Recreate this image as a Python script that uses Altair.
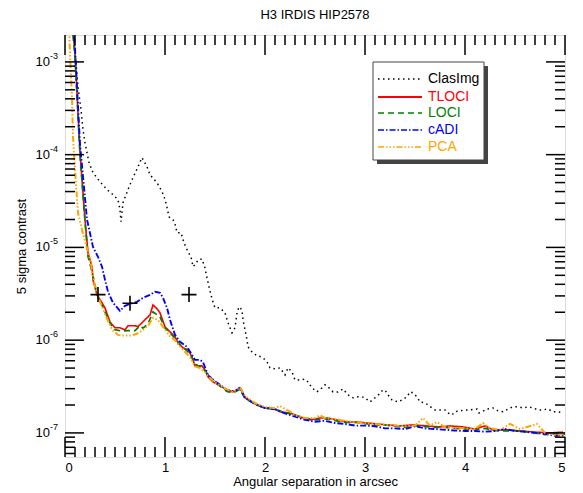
import altair as alt
import pandas as pd

# ---------------- data ----------------
series_names = ["ClasImg", "TLOCI", "LOCI", "cADI", "PCA"]
series_colors = ["#000000", "#ff0000", "#008000", "#0000ff", "#ffa500"]

sep_clas = [0.07, 0.11, 0.13, 0.16, 0.18, 0.20, 0.22, 0.24, 0.28, 0.35, 0.42, 0.48, 0.53, 0.55, 0.56,
            0.58, 0.63, 0.67, 0.73, 0.77, 0.82, 0.85, 0.92, 0.97, 1.00, 1.02, 1.04, 1.08, 1.10, 1.12,
            1.16, 1.19, 1.23, 1.26, 1.28, 1.31, 1.33, 1.37, 1.40, 1.42, 1.44, 1.47, 1.50, 1.55, 1.60,
            1.63, 1.65, 1.67, 1.70, 1.72, 1.74, 1.77, 1.78, 1.80, 1.82, 1.83, 1.87, 1.92, 1.97, 2.02,
            2.05, 2.10, 2.15, 2.20, 2.23, 2.27, 2.30, 2.35, 2.40, 2.43, 2.47, 2.52, 2.57, 2.60, 2.63,
            2.68, 2.73, 2.78, 2.83, 2.88, 2.93, 2.97, 3.00, 3.05, 3.10, 3.14, 3.17, 3.20, 3.23, 3.27,
            3.33, 3.37, 3.42, 3.45, 3.48, 3.52, 3.55, 3.60, 3.63, 3.67, 3.70, 3.75, 3.80, 3.83, 3.87,
            3.90, 3.95, 4.00, 4.05, 4.12, 4.14, 4.17, 4.22, 4.28, 4.33, 4.38, 4.43, 4.48, 4.53, 4.58,
            4.63, 4.68, 4.73, 4.78, 4.83, 4.88, 4.93, 4.98]
con_clas = [3.0e-3, 9.8e-4, 5.4e-4, 3.05e-4, 1.86e-4, 1.34e-4, 1.05e-4, 8.2e-5, 6.4e-5, 5.1e-5, 4.2e-5,
            3.7e-5, 3.26e-5, 2.55e-5, 1.89e-5, 3.03e-5, 4.2e-5, 5.36e-5, 7.4e-5, 9.3e-5, 7.4e-5, 6.07e-5,
            4.98e-5, 4.0e-5, 3.3e-5, 2.7e-5, 2.14e-5, 1.99e-5, 1.80e-5, 1.44e-5, 1.44e-5, 1.12e-5, 8.97e-6,
            7.9e-6, 6.2e-6, 6.65e-6, 7.35e-6, 7.5e-6, 6.0e-6, 4.7e-6, 3.76e-6, 2.79e-6, 2.23e-6, 2.23e-6,
            1.97e-6, 1.54e-6, 1.36e-6, 1.2e-6, 1.36e-6, 1.97e-6, 2.29e-6, 2.12e-6, 1.66e-6, 1.29e-6,
            1.01e-6, 8.47e-7, 7.48e-7, 6.77e-7, 6.6e-7, 5.83e-7, 5.03e-7, 4.9e-7, 5.03e-7, 4.22e-7,
            5.03e-7, 4.55e-7, 3.73e-7, 3.73e-7, 3.8e-7, 3.55e-7, 3.06e-7, 2.77e-7, 3.06e-7, 3.3e-7,
            3.14e-7, 2.77e-7, 2.77e-7, 2.98e-7, 2.57e-7, 2.39e-7, 2.45e-7, 2.45e-7, 2.39e-7, 2.16e-7,
            2.39e-7, 2.6e-7, 2.84e-7, 2.91e-7, 2.57e-7, 2.27e-7, 2.16e-7, 2.27e-7, 2.45e-7, 2.77e-7,
            2.7e-7, 2.45e-7, 2.16e-7, 2.11e-7, 2.0e-7, 1.86e-7, 1.77e-7, 1.77e-7, 1.77e-7, 1.64e-7,
            1.56e-7, 1.69e-7, 1.73e-7, 1.77e-7, 1.77e-7, 1.81e-7, 1.64e-7, 1.69e-7, 1.81e-7, 1.86e-7,
            1.73e-7, 1.69e-7, 1.81e-7, 1.91e-7, 1.91e-7, 1.86e-7, 1.91e-7, 1.86e-7, 1.77e-7, 1.77e-7,
            1.81e-7, 1.69e-7, 1.69e-7, 1.64e-7]

sep_tloci = [0.07, 0.10, 0.15, 0.20, 0.23, 0.27, 0.28, 0.32, 0.37, 0.40, 0.45, 0.50, 0.55, 0.60, 0.63,
             0.70, 0.73, 0.77, 0.80, 0.85, 0.88, 0.92, 0.95, 1.00, 1.05, 1.10, 1.13, 1.18, 1.23, 1.27,
             1.30, 1.37, 1.40, 1.43, 1.48, 1.55, 1.62, 1.68, 1.75, 1.80, 1.87, 1.92, 2.00, 2.08, 2.15,
             2.25, 2.35, 2.45, 2.55, 2.62, 2.72, 2.82, 2.92, 3.02, 3.12, 3.22, 3.35, 3.48, 3.62, 3.75,
             3.85, 3.98, 4.10, 4.20, 4.28, 4.42, 4.55, 4.70, 4.85, 4.98]
con_tloci = [3.5e-3, 1.22e-3, 1.05e-4, 1.99e-5, 8.75e-6, 6.18e-6, 4.47e-6, 3.08e-6, 2.53e-6, 2.23e-6,
             1.57e-6, 1.36e-6, 1.36e-6, 1.29e-6, 1.43e-6, 1.43e-6, 1.40e-6, 1.54e-6, 1.66e-6, 1.87e-6,
             2.40e-6, 2.18e-6, 1.97e-6, 1.39e-6, 1.23e-6, 1.09e-6, 9.35e-7, 8.26e-7, 7.86e-7, 6.61e-7,
             5.28e-7, 5.28e-7, 4.78e-7, 4.02e-7, 3.55e-7, 3.21e-7, 2.91e-7, 2.77e-7, 3.06e-7, 2.39e-7,
             2.16e-7, 2.00e-7, 1.86e-7, 1.86e-7, 1.69e-7, 1.64e-7, 1.49e-7, 1.38e-7, 1.45e-7, 1.45e-7,
             1.38e-7, 1.31e-7, 1.31e-7, 1.28e-7, 1.25e-7, 1.22e-7, 1.19e-7, 1.22e-7, 1.19e-7, 1.16e-7,
             1.19e-7, 1.16e-7, 1.10e-7, 1.19e-7, 1.08e-7, 1.08e-7, 1.05e-7, 1.02e-7, 1.00e-7, 1.02e-7]

sep_loci = [0.07, 0.10, 0.15, 0.20, 0.23, 0.27, 0.30, 0.33, 0.37, 0.42, 0.47, 0.50, 0.57, 0.63, 0.70,
            0.75, 0.78, 0.83, 0.88, 0.95, 1.00, 1.05, 1.10, 1.15, 1.20, 1.25, 1.30, 1.37, 1.42, 1.50,
            1.55, 1.62, 1.68, 1.75, 1.80, 1.90, 2.00, 2.10, 2.20, 2.30, 2.40, 2.50, 2.60, 2.70, 2.80,
            2.90, 3.00, 3.10, 3.20, 3.30, 3.40, 3.50, 3.60, 3.70, 3.80, 3.90, 4.00, 4.10, 4.20, 4.30,
            4.40, 4.50, 4.60, 4.70, 4.80, 4.90, 5.00]
con_loci = [2.5e-3, 1.15e-3, 1.0e-4, 1.9e-5, 8.0e-6, 5.5e-6, 3.9e-6, 2.9e-6, 2.4e-6, 1.8e-6, 1.4e-6,
            1.3e-6, 1.25e-6, 1.27e-6, 1.27e-6, 1.43e-6, 1.35e-6, 1.5e-6, 2.02e-6, 1.78e-6, 1.35e-6,
            1.2e-6, 1.05e-6, 9.0e-7, 8.0e-7, 7.2e-7, 5.5e-7, 5.1e-7, 4.4e-7, 3.5e-7, 3.2e-7, 2.8e-7,
            2.7e-7, 2.95e-7, 2.35e-7, 2.05e-7, 1.85e-7, 1.8e-7, 1.66e-7, 1.55e-7, 1.45e-7, 1.38e-7,
            1.42e-7, 1.36e-7, 1.3e-7, 1.3e-7, 1.26e-7, 1.22e-7, 1.22e-7, 1.18e-7, 1.15e-7, 1.2e-7,
            1.17e-7, 1.15e-7, 1.15e-7, 1.12e-7, 1.1e-7, 1.08e-7, 1.12e-7, 1.06e-7, 1.05e-7, 1.06e-7,
            1.03e-7, 1.0e-7, 9.6e-8, 9.8e-8, 9.7e-8]

sep_cadi = [0.08, 0.10, 0.15, 0.22, 0.28, 0.33, 0.37, 0.40, 0.43, 0.48, 0.55, 0.60, 0.65, 0.72, 0.78,
            0.85, 0.90, 0.95, 0.98, 1.02, 1.05, 1.10, 1.15, 1.22, 1.27, 1.30, 1.35, 1.38, 1.43, 1.50,
            1.55, 1.62, 1.70, 1.75, 1.80, 1.90, 2.00, 2.10, 2.20, 2.30, 2.40, 2.50, 2.60, 2.70, 2.80,
            2.90, 3.00, 3.10, 3.20, 3.30, 3.40, 3.50, 3.60, 3.70, 3.80, 3.90, 4.00, 4.10, 4.20, 4.30,
            4.40, 4.50, 4.60, 4.70, 4.80, 4.90, 5.00]
con_cadi = [2.5e-3, 1.4e-3, 1.3e-4, 2.0e-5, 1.01e-5, 7.9e-6, 6.2e-6, 4.47e-6, 3.32e-6, 2.53e-6, 2.07e-6,
            2.34e-6, 2.46e-6, 2.59e-6, 2.86e-6, 3.08e-6, 3.32e-6, 3.24e-6, 2.86e-6, 2.23e-6, 1.66e-6,
            1.14e-6, 9.6e-7, 8.47e-7, 6.94e-7, 6.13e-7, 6.13e-7, 5.8e-7, 4.2e-7, 3.6e-7, 3.3e-7, 2.9e-7,
            2.8e-7, 3.1e-7, 2.4e-7, 2.05e-7, 1.85e-7, 1.8e-7, 1.62e-7, 1.5e-7, 1.38e-7, 1.32e-7,
            1.35e-7, 1.28e-7, 1.25e-7, 1.2e-7, 1.2e-7, 1.18e-7, 1.12e-7, 1.12e-7, 1.1e-7, 1.18e-7,
            1.12e-7, 1.1e-7, 1.08e-7, 1.06e-7, 1.05e-7, 1.05e-7, 1.03e-7, 1.05e-7, 1.1e-7, 1.05e-7,
            1.03e-7, 1.0e-7, 9.8e-8, 9.3e-8, 9.5e-8]

sep_pca = [0.04, 0.05, 0.07, 0.08, 0.10, 0.13, 0.17, 0.18, 0.25, 0.30, 0.35, 0.42, 0.47, 0.53, 0.58,
           0.65, 0.72, 0.78, 0.83, 0.88, 0.93, 1.00, 1.05, 1.10, 1.15, 1.20, 1.25, 1.30, 1.35, 1.40,
           1.45, 1.50, 1.60, 1.68, 1.75, 1.80, 1.90, 2.00, 2.10, 2.15, 2.25, 2.30, 2.40, 2.50, 2.55,
           2.60, 2.70, 2.80, 2.90, 3.00, 3.10, 3.20, 3.30, 3.40, 3.50, 3.58, 3.65, 3.72, 3.80, 3.90,
           4.00, 4.10, 4.18, 4.25, 4.35, 4.45, 4.55, 4.72, 4.80, 4.90, 5.00]
con_pca = [2.5e-3, 1.2e-3, 4.2e-4, 1.56e-4, 6.9e-5, 2.36e-5, 1.55e-5, 1.4e-5, 7.5e-6, 3.8e-6, 2.6e-6,
           1.7e-6, 1.3e-6, 1.14e-6, 1.12e-6, 1.12e-6, 1.17e-6, 1.29e-6, 1.43e-6, 1.74e-6, 1.65e-6,
           1.3e-6, 1.1e-6, 1.0e-6, 8.5e-7, 7.5e-7, 6.5e-7, 5.2e-7, 5.0e-7, 4.5e-7, 3.9e-7, 3.5e-7,
           3.0e-7, 2.75e-7, 3.1e-7, 2.5e-7, 2.1e-7, 1.9e-7, 1.85e-7, 1.95e-7, 1.7e-7, 1.55e-7, 1.45e-7,
           1.45e-7, 1.55e-7, 1.45e-7, 1.4e-7, 1.35e-7, 1.3e-7, 1.28e-7, 1.25e-7, 1.22e-7, 1.2e-7,
           1.18e-7, 1.2e-7, 1.45e-7, 1.2e-7, 1.31e-7, 1.15e-7, 1.13e-7, 1.12e-7, 1.1e-7, 1.28e-7,
           1.12e-7, 1.08e-7, 1.25e-7, 1.1e-7, 1.25e-7, 1.0e-7, 9.5e-8, 9.8e-8]

plus_sep = [0.33, 0.65, 1.24]
plus_con = [3.1e-6, 2.5e-6, 3.1e-6]

x_major = [0, 1, 2, 3, 4, 5]
y_exponents = [-7, -6, -5, -4, -3]

# ---------------- layout ----------------
W, H = 500, 422
FONT = "Liberation Sans"
XDOM = [0, 5]
YDOM = [5.5e-8, 1.95e-3]
dashes = [[1.5, 3.5], [1, 0], [6, 4], [6, 2, 1.5, 2], [6, 2, 1.5, 2, 1.5, 2, 1.5, 2]]
widths = [1.5, 2.0, 1.6, 1.6, 1.6]

xscale = alt.Scale(domain=XDOM, nice=False, zero=False)
yscale = alt.Scale(type="log", domain=YDOM, nice=False)

# one shared axis definition per channel, reused by every layer so they merge cleanly
xaxis = alt.Axis(values=x_major, ticks=False, domain=False, grid=False,
                 labelFontSize=13, labelPadding=4, labelFont=FONT, labelColor="black",
                 title="Angular separation in arcsec", titleFontSize=13, titleFont=FONT,
                 titleFontWeight="normal", titleColor="black", titlePadding=1)
yaxis = alt.Axis(labels=False, ticks=False, domain=False, grid=False, minExtent=0,
                 title="5 sigma contrast", titleFontSize=13, titleFont=FONT,
                 titleFontWeight="normal", titleColor="black", titlePadding=37)

frames = []
for name, s, c in [("ClasImg", sep_clas, con_clas), ("TLOCI", sep_tloci, con_tloci),
                   ("LOCI", sep_loci, con_loci), ("cADI", sep_cadi, con_cadi), ("PCA", sep_pca, con_pca)]:
    frames.append(pd.DataFrame({"series": name, "sep": s, "con": c}))
df = pd.concat(frames, ignore_index=True)

lines = alt.Chart(df).mark_line(clip=True).encode(
    x=alt.X("sep:Q", scale=xscale, axis=xaxis),
    y=alt.Y("con:Q", scale=yscale, axis=yaxis),
    color=alt.Color("series:N", scale=alt.Scale(domain=series_names, range=series_colors), legend=None),
    strokeDash=alt.StrokeDash("series:N", scale=alt.Scale(domain=series_names, range=dashes), legend=None),
    strokeWidth=alt.StrokeWidth("series:N", scale=alt.Scale(domain=series_names, range=widths), legend=None),
)

plus_df = pd.DataFrame({"sep": plus_sep, "con": plus_con})
plus = alt.Chart(plus_df).mark_point(shape="M-1,0L1,0M0,-1L0,1", size=225, filled=False,
                                     color="black", strokeWidth=1.6, opacity=1).encode(
    x=alt.X("sep:Q", scale=xscale, axis=xaxis),
    y=alt.Y("con:Q", scale=yscale, axis=yaxis),
)

# ---- inward ticks on all four sides ----
x_minor = [i / 10 for i in range(1, 50) if i % 10]
y_major = [10.0 ** e for e in y_exponents]
y_minor = [k * 10.0 ** e for e in range(-8, -2) for k in range(2, 10)
           if YDOM[0] <= k * 10.0 ** e <= YDOM[1]]

tick_layers = []
for vals, ln in [(x_major, 20), (x_minor, 10)]:
    d = pd.DataFrame({"sep": vals})
    tick_layers.append(alt.Chart(d).mark_rule(color="black", strokeWidth=1.5).encode(
        x=alt.X("sep:Q", scale=xscale, axis=xaxis), y=alt.value(H), y2=alt.value(H - ln)))
    tick_layers.append(alt.Chart(d).mark_rule(color="black", strokeWidth=1.5).encode(
        x=alt.X("sep:Q", scale=xscale, axis=xaxis), y=alt.value(0), y2=alt.value(ln)))
for vals, ln in [(y_major, 19), (y_minor, 10)]:
    d = pd.DataFrame({"con": vals})
    tick_layers.append(alt.Chart(d).mark_rule(color="black", strokeWidth=1.5).encode(
        y=alt.Y("con:Q", scale=yscale, axis=yaxis), x=alt.value(0), x2=alt.value(ln)))
    tick_layers.append(alt.Chart(d).mark_rule(color="black", strokeWidth=1.5).encode(
        y=alt.Y("con:Q", scale=yscale, axis=yaxis), x=alt.value(W), x2=alt.value(W - ln)))

# ---- y tick labels 10^e ----
ylab = pd.DataFrame({"con": y_major, "base": ["10"] * len(y_major),
                     "sup": [str(e) for e in y_exponents]})
ylab_base = alt.Chart(ylab).mark_text(align="right", baseline="middle", fontSize=13, font=FONT,
                                      color="black").encode(
    y=alt.Y("con:Q", scale=yscale, axis=yaxis), x=alt.value(-15), text="base:N")
ylab_sup = alt.Chart(ylab).mark_text(align="left", baseline="middle", fontSize=9, font=FONT,
                                     color="black", dy=-6).encode(
    y=alt.Y("con:Q", scale=yscale, axis=yaxis), x=alt.value(-15), text="sup:N")

# ---- legend box ----
one = pd.DataFrame({"a": [0]})
LX0, LX1, LY0, LY1 = 308, 419, 27, 125
shadow = alt.Chart(one).mark_rect(fill="#444444").encode(
    x=alt.value(LX0 + 4), x2=alt.value(LX1 + 4), y=alt.value(LY0 + 4), y2=alt.value(LY1 + 4))
box = alt.Chart(one).mark_rect(fill="white", stroke="#444444", strokeWidth=1).encode(
    x=alt.value(LX0), x2=alt.value(LX1), y=alt.value(LY0), y2=alt.value(LY1))
legend_layers = [shadow, box]
row_y = [44, 62, 78, 95, 112]
for i, name in enumerate(series_names):
    legend_layers.append(alt.Chart(one).mark_rule(color=series_colors[i], strokeWidth=widths[i],
                                                  strokeDash=dashes[i]).encode(
        x=alt.value(313), x2=alt.value(357), y=alt.value(row_y[i])))
    legend_layers.append(alt.Chart(one).mark_text(text=name, align="left", baseline="middle",
                                                  fontSize=14, font=FONT, color=series_colors[i]).encode(
        x=alt.value(363), y=alt.value(row_y[i])))

chart = alt.layer(lines, plus, *tick_layers, ylab_base, ylab_sup, *legend_layers).properties(
    width=W, height=H,
    title=alt.TitleParams("H3 IRDIS HIP2578", fontSize=13, font=FONT, fontWeight="normal",
                          color="black", anchor="middle", frame="group", offset=12),
    autosize=alt.AutoSizeParams(type="none"),
    padding={"left": 57, "top": 27, "right": 10, "bottom": 34},
).configure_view(stroke="black", strokeWidth=1.5).configure(background="white")

chart.save("out.html", embed_options={"renderer": "svg", "actions": False})
